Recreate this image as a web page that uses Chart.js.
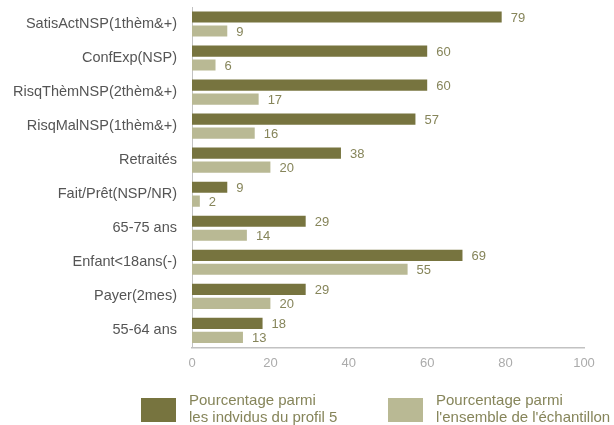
<!DOCTYPE html>
<html>
<head>
<meta charset="utf-8">
<script src="https://cdn.jsdelivr.net/npm/chart.js@4"></script>
<style>
    html, body { margin: 0; padding: 0; background: #fff; }
    #wrap { position: relative; width: 614px; height: 425px; }
</style>
</head>
<body>
<div id="wrap"><canvas id="chart" width="614" height="425"></canvas></div>
<script>
// Chart data
const categories = [
    "SatisActNSP(1thèm&+)",
    "ConfExp(NSP)",
    "RisqThèmNSP(2thèm&+)",
    "RisqMalNSP(1thèm&+)",
    "Retraités",
    "Fait/Prêt(NSP/NR)",
    "65-75 ans",
    "Enfant<18ans(-)",
    "Payer(2mes)",
    "55-64 ans",
];
const profilValues = [79, 60, 60, 57, 38, 9, 29, 69, 29, 18];
const ensembleValues = [9, 6, 17, 16, 20, 2, 14, 55, 20, 13];
const xTicks = [0, 20, 40, 60, 80, 100];
const seriesLabels = [
    ["Pourcentage parmi", "les indvidus du profil 5"],
    ["Pourcentage parmi", "l'ensemble de l'échantillon"],
];

const DARK = "#77743f";
const LIGHT = "#b9b994";
const FONT = "'Liberation Sans', Arial, Helvetica, sans-serif";

// value labels at the end of each bar
const valueLabels = {
    id: "valueLabels",
    afterDatasetsDraw(chart) {
        const ctx = chart.ctx;
        ctx.save();
        ctx.font = "13px " + FONT;
        ctx.fillStyle = "#86855a";
        ctx.textAlign = "left";
        ctx.textBaseline = "middle";
        chart.data.datasets.forEach((ds, i) => {
            chart.getDatasetMeta(i).data.forEach((bar, j) => {
                ctx.fillText(ds.data[j], bar.x + 9, bar.y + 1);
            });
        });
        ctx.restore();
    },
};

// legend below the chart, two-line labels
const bottomLegend = {
    id: "bottomLegend",
    afterDraw(chart) {
        const ctx = chart.ctx;
        const items = [
            { x: 141, color: DARK, text: seriesLabels[0] },
            { x: 388, color: LIGHT, text: seriesLabels[1] },
        ];
        ctx.save();
        ctx.font = "15px " + FONT;
        ctx.textBaseline = "middle";
        ctx.textAlign = "left";
        items.forEach((it) => {
            ctx.fillStyle = it.color;
            ctx.fillRect(it.x, 398, 35, 24);
            ctx.fillStyle = "#86855a";
            ctx.fillText(it.text[0], it.x + 48, 401);
            ctx.fillText(it.text[1], it.x + 48, 418);
        });
        ctx.restore();
    },
};

new Chart(document.getElementById("chart").getContext("2d"), {
    type: "bar",
    data: {
        labels: categories,
        datasets: [
            {
                label: seriesLabels[0].join(" "),
                data: profilValues,
                backgroundColor: DARK,
                categoryPercentage: 0.82,
                barPercentage: 0.8,
            },
            {
                label: seriesLabels[1].join(" "),
                data: ensembleValues,
                backgroundColor: LIGHT,
                categoryPercentage: 0.82,
                barPercentage: 0.8,
            },
        ],
    },
    options: {
        indexAxis: "y",
        responsive: false,
        animation: false,
        layout: {
            padding: { top: 7, right: 30, bottom: 46, left: 0 },
        },
        scales: {
            x: {
                min: 0,
                max: 100,
                afterBuildTicks: (scale) => {
                    scale.ticks = xTicks.map((v) => ({ value: v }));
                },
                afterFit: (scale) => {
                    scale.paddingLeft = 0;
                    scale.paddingRight = 0;
                },
                grid: { display: false, drawTicks: false },
                border: { display: true, color: "#c2c2c2", width: 1.5 },
                ticks: {
                    color: "#ababab",
                    padding: 8,
                    font: { family: FONT, size: 13 },
                },
            },
            y: {
                afterFit: (scale) => {
                    scale.width = 192;
                    scale.paddingTop = 0;
                    scale.paddingBottom = 0;
                },
                grid: { display: false, drawTicks: false },
                border: { display: true, color: "#c2c2c2", width: 1 },
                ticks: {
                    color: "#555555",
                    padding: 15,
                    font: { family: FONT, size: 14.5 },
                },
            },
        },
        plugins: {
            legend: { display: false },
            tooltip: { enabled: false },
        },
    },
    plugins: [valueLabels, bottomLegend],
});
</script>
</body>
</html>
